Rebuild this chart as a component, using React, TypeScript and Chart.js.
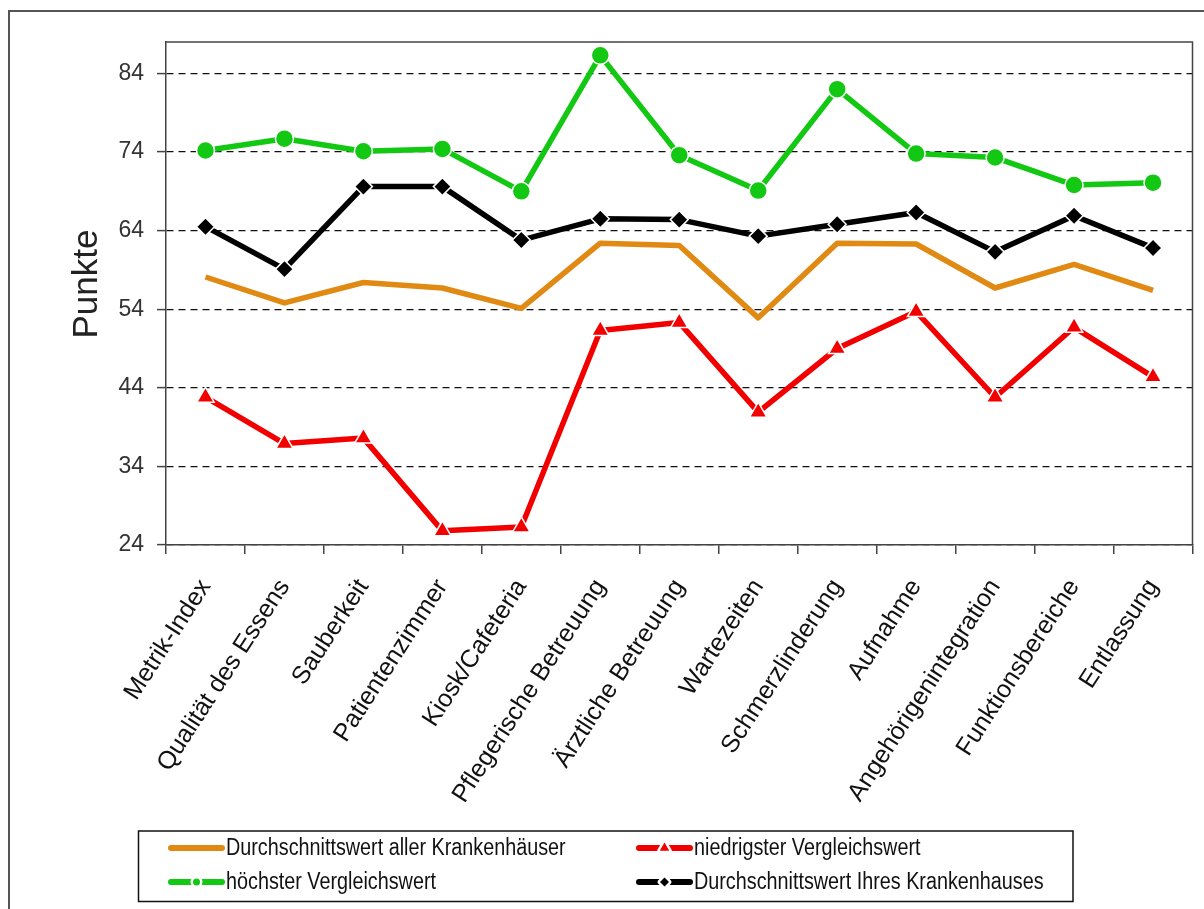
import { useEffect, useRef } from "react";
import { Chart, registerables } from "chart.js";

Chart.register(...registerables);

// Kategorien der Auswertung
const categories = [
  "Metrik-Index",
  "Qualität des Essens",
  "Sauberkeit",
  "Patientenzimmer",
  "Kiosk/Cafeteria",
  "Pflegerische Betreuung",
  "Ärztliche Betreuung",
  "Wartezeiten",
  "Schmerzlinderung",
  "Aufnahme",
  "Angehörigenintegration",
  "Funktionsbereiche",
  "Entlassung",
];

// Punktwerte je Reihe
const avgAllHospitals = [58.1, 54.8, 57.4, 56.7, 54.1, 62.4, 62.1, 52.9, 62.4, 62.3, 56.7, 59.7, 56.4];
const lowestComparison = [42.8, 36.9, 37.6, 25.8, 26.3, 51.3, 52.3, 40.9, 49.0, 53.7, 42.8, 51.7, 45.4];
const highestComparison = [74.2, 75.7, 74.1, 74.4, 69.0, 86.3, 73.6, 69.1, 82.0, 73.8, 73.3, 69.8, 70.1];
const avgOwnHospital = [64.5, 59.1, 69.6, 69.6, 62.8, 65.5, 65.4, 63.3, 64.8, 66.3, 61.3, 65.9, 61.8];

// Achse
const yTicks = [24, 34, 44, 54, 64, 74, 84];
const yMin = 24;
const yMax = 88;
const yTitle = "Punkte";

const seriesLabels = [
  "Durchschnittswert aller Krankenhäuser",
  "niedrigster Vergleichswert",
  "höchster Vergleichswert",
  "Durchschnittswert Ihres Krankenhauses",
];

const FONT = "Arial, 'Liberation Sans', sans-serif";
const ORANGE = "#E08A14";
const RED = "#F20000";
const GREEN = "#12C812";
const BLACK = "#000000";

type Marker = "none" | "circle" | "triangle" | "rectRot";

function markerPath(ctx: CanvasRenderingContext2D, kind: Marker, x: number, y: number, r: number) {
  ctx.beginPath();
  if (kind === "circle") {
    ctx.arc(x, y, r, 0, Math.PI * 2);
  } else if (kind === "rectRot") {
    ctx.moveTo(x - r, y);
    ctx.lineTo(x, y - r);
    ctx.lineTo(x + r, y);
    ctx.lineTo(x, y + r);
  } else {
    ctx.moveTo(x, y - r);
    ctx.lineTo(x + r * 0.866, y + r * 0.5);
    ctx.lineTo(x - r * 0.866, y + r * 0.5);
  }
  ctx.closePath();
}

function drawMarker(ctx: CanvasRenderingContext2D, kind: Marker, x: number, y: number, r: number, color: string) {
  if (kind === "none") return;
  // weißer Hof um das Symbol
  markerPath(ctx, kind, x, y, r);
  ctx.lineWidth = 5;
  ctx.lineJoin = "round";
  ctx.strokeStyle = "#ffffff";
  ctx.stroke();
  markerPath(ctx, kind, x, y, r);
  ctx.fillStyle = color;
  ctx.fill();
}

const decorations = {
  id: "decorations",
  beforeDraw(chart: any) {
    const { ctx, width, height } = chart;
    ctx.save();
    ctx.fillStyle = "#ffffff";
    ctx.fillRect(0, 0, width, height);
    ctx.restore();
  },
  afterDraw(chart: any) {
    const { ctx, chartArea: a } = chart;
    ctx.save();

    // äußerer Rahmen
    ctx.strokeStyle = "#555555";
    ctx.lineWidth = 2;
    ctx.beginPath();
    ctx.moveTo(9, chart.height);
    ctx.lineTo(9, 11);
    ctx.lineTo(chart.width, 11);
    ctx.stroke();

    // Rahmen der Zeichenfläche (oben, rechts)
    ctx.strokeStyle = "#444444";
    ctx.lineWidth = 1.5;
    ctx.beginPath();
    ctx.moveTo(a.left, a.top);
    ctx.lineTo(a.right, a.top);
    ctx.lineTo(a.right, a.bottom);
    ctx.stroke();

    // Achsentitel
    ctx.save();
    ctx.translate(87, 284);
    ctx.rotate(-Math.PI / 2);
    ctx.font = `35px ${FONT}`;
    ctx.fillStyle = "#222222";
    ctx.textAlign = "center";
    ctx.textBaseline = "middle";
    ctx.fillText(yTitle, 0, 0);
    ctx.restore();

    // Legende
    const box = { x: 138.5, y: 831, w: 934.5, h: 70.5 };
    ctx.strokeStyle = "#111111";
    ctx.lineWidth = 1.5;
    ctx.strokeRect(box.x, box.y, box.w, box.h);

    const cols = [168, 636];
    const rows = [848, 882];
    const markers: Marker[] = ["none", "triangle", "circle", "rectRot"];
    const markerSize = [0, 5.5, 3.5, 4.5];
    chart.data.datasets.forEach((ds: any, i: number) => {
      const x0 = cols[i % 2];
      const y = rows[Math.floor(i / 2)];
      const x1 = x0 + 57;
      ctx.strokeStyle = ds.borderColor;
      ctx.lineWidth = 6;
      ctx.lineCap = "round";
      ctx.beginPath();
      ctx.moveTo(x0 + 3, y);
      ctx.lineTo(x1 - 3, y);
      ctx.stroke();
      ctx.lineCap = "butt";
      drawMarker(ctx, markers[i], (x0 + x1) / 2, y, markerSize[i], ds.borderColor);

      ctx.save();
      ctx.translate(x1 + 1, y + 1);
      ctx.scale(0.86, 1);
      ctx.font = `23px ${FONT}`;
      ctx.fillStyle = "#111111";
      ctx.textAlign = "left";
      ctx.textBaseline = "middle";
      ctx.fillText(ds.label, 0, 0);
      ctx.restore();
    });

    ctx.restore();
  },
};

export default function App() {
  const canvasRef = useRef<HTMLCanvasElement | null>(null);

  useEffect(() => {
    const canvas = canvasRef.current;
    if (!canvas) return;

    const chart = new Chart(canvas, {
      type: "line",
      data: {
        labels: categories,
        datasets: [
          {
            label: seriesLabels[0],
            data: avgAllHospitals,
            borderColor: ORANGE,
            backgroundColor: ORANGE,
            borderWidth: 5.5,
            pointRadius: 0,
            pointHoverRadius: 0,
            borderJoinStyle: "round",
            tension: 0,
          },
          {
            label: seriesLabels[1],
            data: lowestComparison,
            borderColor: RED,
            backgroundColor: RED,
            borderWidth: 5.5,
            pointStyle: "triangle",
            pointRadius: 10,
            pointBackgroundColor: RED,
            pointBorderColor: "#ffffff",
            pointBorderWidth: 1.5,
            borderJoinStyle: "round",
            tension: 0,
          },
          {
            label: seriesLabels[2],
            data: highestComparison,
            borderColor: GREEN,
            backgroundColor: GREEN,
            borderWidth: 5.5,
            pointStyle: "circle",
            pointRadius: 9,
            pointBackgroundColor: GREEN,
            pointBorderColor: "#ffffff",
            pointBorderWidth: 1.5,
            borderJoinStyle: "round",
            tension: 0,
          },
          {
            label: seriesLabels[3],
            data: avgOwnHospital,
            borderColor: BLACK,
            backgroundColor: BLACK,
            borderWidth: 5.5,
            pointStyle: "rectRot",
            pointRadius: 9,
            pointBackgroundColor: BLACK,
            pointBorderColor: "#ffffff",
            pointBorderWidth: 1.5,
            borderJoinStyle: "round",
            tension: 0,
          },
        ],
      },
      options: {
        responsive: false,
        animation: false,
        events: [],
        layout: { padding: { left: 0, top: 42, right: 10, bottom: 0 } },
        plugins: {
          legend: { display: false },
          tooltip: { enabled: false },
          title: { display: false },
        },
        scales: {
          x: {
            type: "category",
            offset: true,
            afterFit: (s: any) => {
              s.height = 364;
            },
            grid: {
              display: true,
              offset: true,
              drawOnChartArea: false,
              drawTicks: true,
              tickLength: 9,
              color: "#444444",
              lineWidth: 1.5,
            },
            border: { display: true, color: "#444444", width: 1.5 },
            ticks: {
              autoSkip: false,
              maxRotation: 57,
              minRotation: 57,
              padding: 20,
              color: "#111111",
              font: { family: FONT, size: 25 },
            },
          },
          y: {
            type: "linear",
            min: yMin,
            max: yMax,
            afterFit: (s: any) => {
              s.width = 166;
            },
            afterBuildTicks: (s: any) => {
              s.ticks = yTicks.map((v) => ({ value: v }));
            },
            grid: {
              display: true,
              color: "#111111",
              lineWidth: 1.2,
              drawTicks: true,
              tickLength: 9,
              tickColor: "#444444",
              tickWidth: 1.5,
            },
            border: { display: true, color: "#444444", width: 1.5, dash: [7, 5] },
            ticks: {
              padding: 13,
              color: "#333333",
              font: { family: FONT, size: 23 },
            },
          },
        },
      },
      plugins: [decorations],
    });

    return () => chart.destroy();
  }, []);

  return (
    <div
      style={{
        position: "fixed",
        left: 0,
        top: 0,
        width: 1204,
        height: 909,
        background: "#ffffff",
        overflow: "hidden",
      }}
    >
      <canvas ref={canvasRef} width={1204} height={909} style={{ display: "block" }} />
    </div>
  );
}
